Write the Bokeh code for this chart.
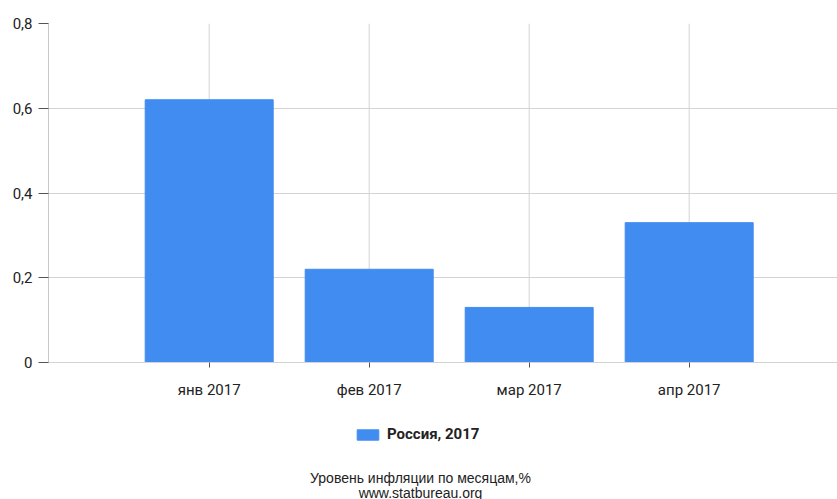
from bokeh.plotting import figure
from bokeh.models import (ColumnDataSource, Range1d, FixedTicker, CustomJSTickFormatter,
                          Legend, LegendItem, Label, LinearAxis)
from bokeh.embed import file_html
from bokeh.resources import INLINE

# data
months = ["янв 2017", "фев 2017", "мар 2017", "апр 2017"]
positions = [1, 2, 3, 4]
values = [0.62, 0.22, 0.13, 0.33]
y_ticks = [0, 0.2, 0.4, 0.6, 0.8]
series_name = "Россия, 2017"
title_lines = ["Уровень инфляции по месяцам,%", "www.statbureau.org"]

BLUE = "#418CF0"
GRID = "#d4d4d4"
TEXT = "#222222"

# frame spans down to the bottom edge; the value axis sits at y=0
p = figure(width=837, height=499, output_backend="svg", toolbar_location=None,
           x_range=Range1d(-0.0044, 4.927), y_range=Range1d(-0.3233, 0.8),
           x_axis_location=None,
           min_border_left=48, min_border_right=0, min_border_top=23, min_border_bottom=0)
p.outline_line_color = None

# vertical grid lines at the categories (from 0 up to the top tick)
p.segment(x0=positions, y0=[y_ticks[0]] * len(positions), x1=positions,
          y1=[y_ticks[-1]] * len(positions), line_color=GRID, line_width=1, level="underlay")

src = ColumnDataSource(dict(x=positions, top=values))
r = p.vbar(x="x", top="top", bottom=0, width=0.8, source=src,
           fill_color=BLUE, line_color=BLUE, line_width=1)

# x axis at y = 0
xaxis = LinearAxis(fixed_location=0, ticker=FixedTicker(ticks=positions))
xaxis.major_label_overrides = {pos: m for pos, m in zip(positions, months)}
xaxis.axis_line_color = GRID
xaxis.major_tick_line_color = "#555555"
xaxis.major_tick_in = 0
xaxis.major_tick_out = 5
xaxis.minor_tick_line_color = None
xaxis.major_label_text_font = "Roboto"
xaxis.major_label_text_font_size = "15px"
xaxis.major_label_text_color = TEXT
xaxis.major_label_standoff = 13
p.add_layout(xaxis, "below")

# y axis
p.yaxis.ticker = FixedTicker(ticks=y_ticks)
p.yaxis.bounds = (y_ticks[0], y_ticks[-1])
p.yaxis.formatter = CustomJSTickFormatter(
    code="return tick == 0 ? '0' : tick.toFixed(1).replace('.', ',');")
p.yaxis.axis_line_color = "#c8c8c8"
p.yaxis.major_tick_line_color = "#555555"
p.yaxis.major_tick_in = 0
p.yaxis.major_tick_out = 10
p.yaxis.minor_tick_line_color = None
p.yaxis.major_label_text_font = "Roboto"
p.yaxis.major_label_text_font_size = "15px"
p.yaxis.major_label_text_color = TEXT
p.yaxis.major_label_standoff = 6

p.xgrid.visible = False
p.ygrid.ticker = FixedTicker(ticks=y_ticks)
p.ygrid.grid_line_color = GRID

legend = Legend(items=[LegendItem(label=series_name, renderers=[r])],
                location=(306, 56), orientation="horizontal",
                padding=0, margin=0, spacing=0,
                glyph_width=27, glyph_height=13, label_height=13, label_standoff=6,
                label_text_font="Roboto", label_text_font_size="15px",
                label_text_font_style="bold", label_text_color=TEXT,
                border_line_color=None, background_fill_alpha=0)
p.add_layout(legend, "center")

for i, line in enumerate(title_lines):
    p.add_layout(Label(x=372, y=22 - 15 * i, x_units="screen", y_units="screen",
                       text=line, text_align="center", text_baseline="middle",
                       text_font="Liberation Sans", text_font_size="14px",
                       text_color=TEXT))

open("out.html", "w").write(file_html(p, INLINE))
